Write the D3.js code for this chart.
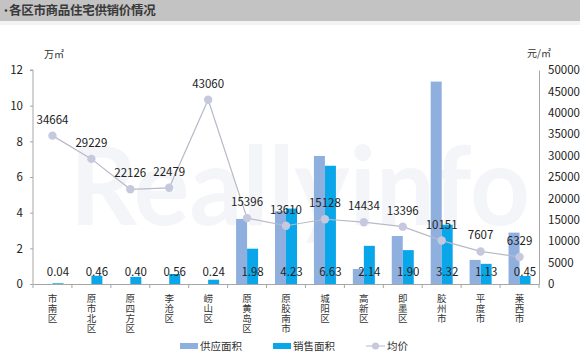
<!DOCTYPE html>
<html>
<head>
<meta charset="utf-8">
<script src="https://cdn.jsdelivr.net/npm/d3@7"></script>
<style>
  body { margin: 0; background: #fff; }
  svg { display: block; font-family: "Noto Sans CJK SC", "Noto Sans", sans-serif; }
</style>
</head>
<body>
<div id="chart"></div>
<script>
// 各区市商品住宅供销价情况
const districts = ['市南区', '原市北区', '原四方区', '李沧区', '崂山区', '原黄岛区', '原胶南市',
	'城阳区', '高新区', '即墨区', '胶州市', '平度市', '莱西市'];
const supply = [0, 0, 0, 0, 0, 3.65, 4.08, 7.18, 0.84, 2.69, 11.35, 1.35, 2.88];
const sales = [0.04, 0.46, 0.40, 0.56, 0.24, 1.98, 4.23, 6.63, 2.14, 1.90, 3.32, 1.13, 0.45];
const price = [34664, 29229, 22126, 22479, 43060, 15396, 13610, 15128, 14434, 13396, 10151, 7607, 6329];
const leftTicks = [0, 2, 4, 6, 8, 10, 12];
const rightTicks = [0, 5000, 10000, 15000, 20000, 25000, 30000, 35000, 40000, 45000, 50000];

var width = 580, height = 361;
var margin = { top: 70, right: 41, bottom: 77, left: 33 };

var svg = d3.select('#chart').append('svg')
	.attr('width', width)
	.attr('height', height);

// header bar
svg.append('rect').attr('x', 0).attr('y', 0).attr('width', width).attr('height', 21).attr('fill', '#c3c3c3');
svg.append('rect').attr('x', 0).attr('y', 21).attr('width', width).attr('height', 4).attr('fill', '#f3f3f3');
svg.append('circle').attr('cx', 6).attr('cy', 10.5).attr('r', 1.3).attr('fill', '#3a3a3a');
svg.append('text').attr('x', 9).attr('y', 15)
	.attr('font-size', 12.5).attr('font-weight', 'bold').attr('fill', '#3a3a3a')
	.attr('letter-spacing', -0.3)
	.text('各区市商品住宅供销价情况');

// faint watermark
svg.append('text').attr('x', 70).attr('y', 225)
	.attr('font-size', 110).attr('font-weight', 'bold').attr('font-family', 'Lato, sans-serif')
	.attr('fill', '#f4f5f8')
	.attr('textLength', 460).attr('lengthAdjust', 'spacingAndGlyphs')
	.text('Reallyinfo');

var x0 = margin.left, x1 = width - margin.right;
var yTop = margin.top, yBot = height - margin.bottom;

var x = d3.scaleBand().domain(districts).range([x0, x1]);
var xs = d3.scaleBand().domain(['supply', 'sales']).range([0, 22]);
var y = d3.scaleLinear().domain([0, 12]).range([yBot, yTop]);
var y2 = d3.scaleLinear().domain([0, 50000]).range([yBot, yTop]);

var g = svg.append('g');

// bars
g.selectAll('.supply').data(districts).enter().append('rect')
	.attr('x', function (d) { return x(d) + x.bandwidth() / 2 - 11 + xs('supply'); })
	.attr('y', function (d, i) { return y(supply[i]); })
	.attr('width', xs.bandwidth())
	.attr('height', function (d, i) { return yBot - y(supply[i]); })
	.attr('fill', '#8fafdf');

g.selectAll('.sales').data(districts).enter().append('rect')
	.attr('x', function (d) { return x(d) + x.bandwidth() / 2 - 11 + xs('sales'); })
	.attr('y', function (d, i) { return y(sales[i]); })
	.attr('width', xs.bandwidth())
	.attr('height', function (d, i) { return yBot - y(sales[i]); })
	.attr('fill', '#0aa6ea');

// sales labels
g.selectAll('.slab').data(districts).enter().append('text')
	.attr('x', function (d) { return x(d) + x.bandwidth() / 2 + 5.5; })
	.attr('y', yBot - 8)
	.attr('text-anchor', 'middle')
	.attr('font-size', 11.5).attr('fill', '#222')
	.text(function (d, i) { return sales[i].toFixed(2); });

// axes
var left = g.append('g').attr('transform', 'translate(' + x0 + ',0)')
	.call(d3.axisLeft(y).tickValues(leftTicks).tickSize(3).tickPadding(7));
var right = g.append('g').attr('transform', 'translate(' + x1 + ',0)')
	.call(d3.axisRight(y2).tickValues(rightTicks).tickFormat(d3.format('d')).tickSize(0).tickPadding(9));
var bottom = g.append('g').attr('transform', 'translate(0,' + yBot + ')')
	.call(d3.axisBottom(x).tickSize(0).tickFormat(''));

[left, right, bottom].forEach(function (a) {
	a.select('.domain').attr('stroke', '#a6a6a6');
	a.selectAll('.tick line').attr('stroke', '#a6a6a6');
	a.selectAll('.tick text').attr('font-size', 11.5).attr('fill', '#222')
		.attr('font-family', '"Noto Sans CJK SC", "Noto Sans", sans-serif');
});
left.select('.domain').attr('d', 'M-3,' + yTop + 'H0V' + yBot);

// category boundary ticks
g.selectAll('.btick').data(d3.range(districts.length + 1)).enter().append('line')
	.attr('x1', function (i) { return x0 + i * x.step(); })
	.attr('x2', function (i) { return x0 + i * x.step(); })
	.attr('y1', yBot).attr('y2', yBot + 4)
	.attr('stroke', '#a6a6a6');

// vertical category labels
districts.forEach(function (d) {
	var t = g.append('text')
		.attr('x', x(d) + x.bandwidth() / 2)
		.attr('y', yBot + 18)
		.attr('text-anchor', 'middle')
		.attr('font-size', 9.5).attr('fill', '#333');
	d.split('').forEach(function (c, k) {
		t.append('tspan').attr('x', x(d) + x.bandwidth() / 2).attr('dy', k === 0 ? 0 : 10).text(c);
	});
});

// price line
var line = d3.line()
	.x(function (d, i) { return x(districts[i]) + x.bandwidth() / 2; })
	.y(function (d) { return y2(d); });
g.append('path').datum(price).attr('d', line)
	.attr('fill', 'none').attr('stroke', '#b8bac8').attr('stroke-width', 1.2);
g.selectAll('.dot').data(price).enter().append('circle')
	.attr('cx', function (d, i) { return x(districts[i]) + x.bandwidth() / 2; })
	.attr('cy', function (d) { return y2(d); })
	.attr('r', 4.2)
	.attr('fill', '#c6c9de');
g.selectAll('.plab').data(price).enter().append('text')
	.attr('x', function (d, i) { return x(districts[i]) + x.bandwidth() / 2; })
	.attr('y', function (d) { return y2(d) - 12; })
	.attr('text-anchor', 'middle')
	.attr('font-size', 11.5).attr('fill', '#222')
	.text(function (d) { return d; });

// unit labels
svg.append('text').attr('x', 44).attr('y', 58).attr('font-size', 10).attr('fill', '#333').text('万㎡');
svg.append('text').attr('x', 527).attr('y', 57).attr('font-size', 10).attr('fill', '#333').text('元/㎡');

// legend
var lg = svg.append('g').attr('font-size', 10.5).attr('fill', '#333');
lg.append('rect').attr('x', 180).attr('y', 343).attr('width', 18).attr('height', 6).attr('fill', '#8fafdf');
lg.append('text').attr('x', 200).attr('y', 350).text('供应面积');
lg.append('rect').attr('x', 273).attr('y', 343).attr('width', 18).attr('height', 6).attr('fill', '#0aa6ea');
lg.append('text').attr('x', 293).attr('y', 350).text('销售面积');
lg.append('line').attr('x1', 366).attr('x2', 385).attr('y1', 346).attr('y2', 346).attr('stroke', '#b8bac8');
lg.append('circle').attr('cx', 375.5).attr('cy', 346).attr('r', 3.5).attr('fill', '#c6c9de');
lg.append('text').attr('x', 387).attr('y', 350).text('均价');
</script>
</body>
</html>
